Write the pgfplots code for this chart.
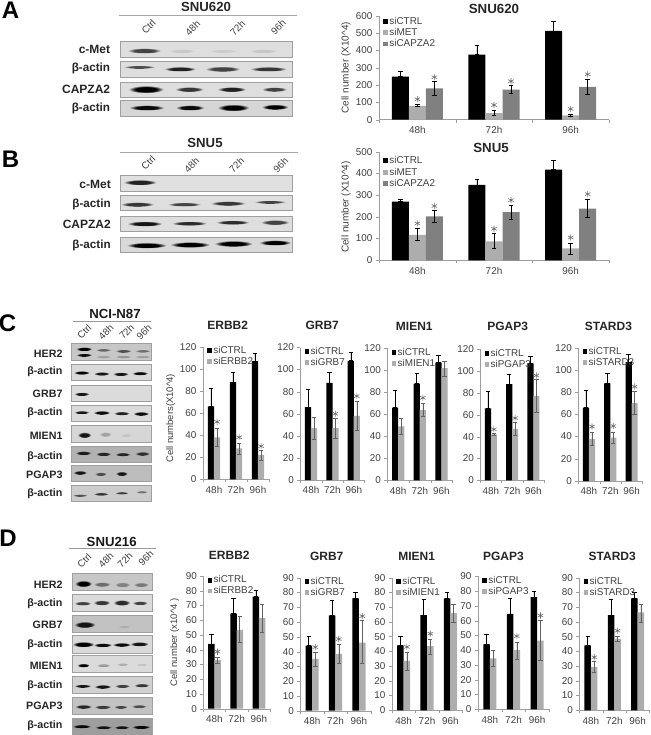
\documentclass[border=0pt]{standalone}
\usepackage{fontspec}
\setmainfont{Liberation Sans}
\usepackage{pgfplots}
\pgfplotsset{compat=1.18}

\definecolor{txt}{gray}{0.25}
\definecolor{axisc}{gray}{0.62}
\definecolor{star}{gray}{0.42}
\definecolor{ebgray}{gray}{0.38}
\definecolor{barlight}{gray}{0.68}
\definecolor{barmid}{gray}{0.5}

% blot drawing, coordinates are 3x reference pixels
\pgfdeclareradialshading[bandcol,panelcol]{blotband}{\pgfpoint{0bp}{0bp}}{%
  color(0bp)=(bandcol); color(15bp)=(bandcol); color(25bp)=(panelcol); color(50bp)=(panelcol)}
\newcommand{\blot}[5]{%
  \colorlet{panelcol}{white!#5!black}%
  \fill[panelcol] (#1,#2) rectangle (#3,#4);
  \draw[gray!75,line width=.6pt] (#1,#2) rectangle (#3,#4);}
\newcommand{\band}[5]{%
  \colorlet{bandcol}{black!#5!panelcol}%
  \shade[shading=blotband] (#1,#2) ellipse [x radius=#3/2+3,y radius=#4/2+1.5];}
\newcommand{\rowlab}[3]{\node[anchor=east,inner sep=0pt,text=black!85,font=\fontsize{#3}{#3}\selectfont\bfseries] at (#1) {#2};}
\newcommand{\lane}[2]{\node[rotate=45,inner sep=0pt,text=black!75,font=\fontsize{9.8}{10}\selectfont] at (#1) {#2};}

\pgfplotsset{
  chart/.style={
    scale only axis,
    xmin=-0.5, xmax=2.5, ymin=0,
    xtick={0,1,2}, xticklabels={48h,72h,96h},
    minor xtick={-0.5,0.5,1.5,2.5},
    axis x line=bottom, axis y line=left,
    axis line style={axisc,-},
    tick align=outside,
    major tick length=3pt, minor tick length=3pt,
    tick style={axisc},
    major x tick style={draw=none},
    /pgf/number format/assume math mode=true,
    tick label style={font=\fontsize{9.9}{10}\selectfont,text=txt},
    label style={font=\fontsize{9.5}{10}\selectfont,text=txt},
    clip=false,
    legend cell align=left,
    legend style={draw=none,fill=none,inner sep=0pt,anchor=north west,
      font=\fontsize{9.9}{10}\selectfont,text=txt,
      nodes={inner ysep=0.6pt,inner xsep=1.6pt}},
  },
  chartbar/.style n args={3}{
    ybar, bar width=#1pt, bar shift=0pt, fill=#2, draw=none,
    legend image code/.code={\fill[#2] (0pt,-2.4pt) rectangle (4.6pt,2.4pt);},
    error bars/.cd, y dir=both, y explicit,
    error bar style={#3,line width=.55pt},
    error mark options={#3,line width=.55pt,mark size=2.2pt,rotate=90},
  },
  starmark/.style={only marks,mark=asterisk,mark size=3.1pt,star,line width=.6pt,forget plot},
  ttl/.style n args={3}{title={#3},title style={at={(axis description cs:#1,#2)},anchor=center,yshift=-6pt,
      font=\fontsize{12}{12}\selectfont\bfseries,text=black!85}},
  smallA/.style={legend style={at={(rel axis cs:0,1)},xshift=4pt,yshift=1pt,row sep=1pt}},
  ctrl/.style={chartbar={6.2}{black}{black}},
  sig/.style={chartbar={6.2}{barlight}{ebgray}},
  ctrlD/.style={chartbar={6.5}{black}{black}},
  sigD/.style={chartbar={6.5}{barlight}{ebgray}},
  chartC/.style={chart,ymax=120,ytick distance=20},
  chartD/.style={chart,ymax=90,ytick distance=10},
}

\begin{document}
\begin{tikzpicture}
\path[use as bounding box] (0pt,0pt) rectangle (650pt,-735pt);

% panel letters
\foreach \t/\xx/\yy in {A/10.5/10,B/10.5/159,C/7.5/323,D/8/538}{
  \node[font=\fontsize{24}{24}\selectfont\bfseries,inner sep=0pt] at (\xx pt,-\yy pt) {\t};
}

% ---- blots A and B
\begin{scope}[x=0.33333pt,y=-0.33333pt]
\node[font=\fontsize{13.2}{13}\selectfont\bfseries,text=black!85] at (618,22) {SNU620};
\draw[gray!70,line width=.7pt] (356,47) -- (890,47);
\lane{446,80}{Ctrl}\lane{578,85}{48h}\lane{713,85}{72h}\lane{835,82}{96h}
\rowlab{331,147}{c-Met}{12}\rowlab{331,205}{β-actin}{11.7}\rowlab{331,268}{CAPZA2}{12}\rowlab{331,326}{β-actin}{11.7}
\blot{360}{125}{878}{172}{87}
\band{433}{152}{95}{14}{70}\band{545}{153}{75}{10}{10}\band{670}{153}{80}{8}{8}\band{790}{153}{80}{10}{10}
\blot{360}{185}{878}{231}{87}
\band{418}{201}{90}{8}{65}\band{540}{207}{90}{12}{85}\band{668}{207}{100}{14}{70}\band{805}{207}{105}{12}{75}
\blot{360}{247}{878}{293}{87}
\band{438}{268}{100}{20}{100}\band{568}{268}{80}{13}{75}\band{695}{268}{80}{13}{85}\band{823}{268}{70}{12}{70}
\blot{360}{302}{878}{348}{84}
\band{440}{323}{100}{14}{95}\band{570}{323}{80}{14}{95}\band{700}{323}{90}{18}{100}\band{825}{321}{75}{14}{100}

\node[font=\fontsize{13.2}{13}\selectfont\bfseries,text=black!85] at (615,428) {SNU5};
\draw[gray!70,line width=.7pt] (361,458) -- (895,458);
\lane{445,488}{Ctrl}\lane{575,495}{48h}\lane{710,495}{72h}\lane{842,495}{96h}
\rowlab{333,553}{c-Met}{12}\rowlab{333,612}{β-actin}{11.7}\rowlab{333,673}{CAPZA2}{12}\rowlab{333,735}{β-actin}{11.7}
\blot{360}{527}{878}{573}{88}
\band{420}{547}{95}{14}{85}
\blot{360}{586}{878}{632}{87}
\band{412}{613}{95}{12}{75}\band{553}{613}{95}{10}{70}\band{684}{610}{100}{12}{75}\band{810}{606}{90}{8}{70}
\blot{360}{648}{878}{694}{87}
\band{434}{671}{100}{13}{90}\band{568}{670}{100}{11}{80}\band{698}{667}{95}{11}{80}\band{825}{667}{80}{13}{70}
\blot{360}{712}{878}{758}{85}
\band{440}{736}{115}{15}{100}\band{570}{734}{115}{15}{100}\band{700}{731}{110}{16}{100}\band{825}{728}{90}{14}{100}
\end{scope}

% ---- blots C
\begin{scope}[shift={(0pt,-300pt)},x=0.33333pt,y=-0.33333pt]
\node[font=\fontsize{13.2}{13}\selectfont\bfseries,text=black!90] at (345,43) {NCI-N87};
\draw[gray!80,line width=.7pt] (220,63) -- (453,63);
\lane{253,95}{Ctrl}\lane{318,97}{48h}\lane{380,95}{72h}\lane{432,97}{96h}
\rowlab{188,160}{HER2}{10.7}\rowlab{188,214}{β-actin}{10.7}\rowlab{188,281}{GRB7}{10.7}\rowlab{188,338}{β-actin}{10.7}
\rowlab{188,407}{MIEN1}{10.7}\rowlab{188,470}{β-actin}{10.7}\rowlab{188,524}{PGAP3}{10.7}\rowlab{188,582}{β-actin}{10.7}
\blot{215}{130}{455}{180}{78}
\band{252}{147}{42}{10}{100}\band{252}{165}{42}{8}{95}\band{310}{150}{40}{7}{50}\band{310}{170}{40}{7}{20}
\band{370}{153}{42}{8}{60}\band{370}{170}{42}{7}{25}\band{428}{153}{40}{7}{45}\band{428}{170}{40}{7}{20}
\blot{215}{192}{455}{241}{85}
\band{245}{218}{42}{9}{100}\band{305}{221}{42}{9}{90}\band{362}{222}{42}{9}{90}\band{420}{220}{42}{9}{95}
\blot{215}{255}{455}{303}{86}
\band{245}{282}{40}{9}{90}
\blot{215}{316}{455}{365}{86}
\band{245}{337}{40}{8}{90}\band{305}{338}{45}{10}{95}\band{365}{340}{42}{9}{85}\band{423}{341}{42}{10}{95}
\blot{215}{376}{455}{428}{84}
\band{253}{405}{35}{15}{90}\band{316}{403}{30}{12}{25}\band{378}{406}{25}{10}{8}
\blot{215}{438}{455}{488}{70}
\band{250}{459}{42}{10}{85}\band{310}{462}{40}{10}{80}\band{368}{463}{40}{9}{80}\band{427}{461}{38}{10}{75}
\blot{215}{495}{455}{545}{74}
\band{240}{518}{35}{10}{90}\band{302}{522}{30}{9}{60}\band{365}{521}{30}{11}{90}
\blot{215}{555}{455}{603}{80}
\band{240}{586}{40}{6}{60}\band{303}{582}{40}{7}{75}\band{365}{579}{35}{6}{70}\band{425}{576}{30}{6}{45}
\end{scope}

% ---- blots D
\begin{scope}[shift={(0pt,-515pt)},x=0.33333pt,y=-0.33333pt]
\node[font=\fontsize{13.2}{13}\selectfont\bfseries,text=black!90] at (335,80) {SNU216};
\draw[gray!80,line width=.7pt] (208,101) -- (467,101);
\lane{253,137}{Ctrl}\lane{318,135}{48h}\lane{375,135}{72h}\lane{438,130}{96h}
\rowlab{188,208}{HER2}{10.7}\rowlab{188,267}{β-actin}{10.7}\rowlab{188,329}{GRB7}{10.7}\rowlab{188,390}{β-actin}{10.7}
\rowlab{188,452}{MIEN1}{10.7}\rowlab{188,511}{β-actin}{10.7}\rowlab{188,572}{PGAP3}{10.7}\rowlab{188,632}{β-actin}{10.7}
\blot{216}{175}{456}{225}{78}
\band{250}{206}{45}{17}{100}\band{306}{208}{45}{12}{45}\band{367}{209}{40}{13}{35}\band{423}{209}{40}{11}{40}
\blot{216}{237}{456}{288}{86}
\band{248}{265}{45}{10}{70}\band{305}{263}{45}{13}{75}\band{365}{263}{45}{15}{80}\band{420}{264}{40}{10}{70}
\blot{216}{301}{456}{352}{76}
\band{254}{329}{58}{17}{90}\band{372}{335}{30}{8}{10}
\blot{216}{362}{456}{414}{85}
\band{250}{388}{60}{14}{100}\band{308}{390}{50}{10}{95}\band{365}{389}{50}{10}{95}\band{418}{387}{50}{11}{90}
\blot{216}{421}{456}{472}{86}
\band{250}{451}{32}{9}{100}\band{310}{451}{35}{8}{30}\band{368}{448}{30}{7}{20}\band{425}{449}{30}{6}{10}
\blot{216}{484}{456}{534}{82}
\band{248}{513}{45}{8}{90}\band{308}{515}{45}{10}{90}\band{367}{513}{40}{9}{70}\band{425}{511}{40}{9}{75}
\blot{216}{548}{456}{597}{76}
\band{250}{575}{45}{10}{80}\band{308}{576}{45}{9}{70}\band{362}{576}{35}{8}{65}\band{417}{574}{40}{8}{60}
\blot{216}{610}{456}{660}{62}
\band{245}{634}{50}{9}{95}\band{310}{637}{45}{8}{90}\band{365}{637}{40}{8}{90}\band{423}{636}{50}{9}{95}
\end{scope}

% ---- A chart
\begin{axis}[chart, at={(379pt,-119.7pt)}, width=230pt, height=104pt,
  ymax=600, ytick distance=100,
  ttl={0.5}{1.064}{\fontsize{13.3}{13}\selectfont SNU620},
  ylabel={Cell number (X10\textasciicircum 4)},
  y label style={at={(axis description cs:-0.143,0.5)},anchor=center,font=\fontsize{10}{10}\selectfont},
  legend style={at={(rel axis cs:0,1)},xshift=4pt,yshift=-0.5pt,row sep=1.5pt}]
\addplot[chartbar={17}{black}{black}] coordinates {
  (-0.222,248) += (0,30) -= (0,0)
  (0.778,375) += (0,55) -= (0,0)
  (1.778,512) += (0,53) -= (0,0)
};
\addplot[chartbar={17}{barlight}{black}] coordinates {
  (0,80) += (0,8) -= (0,5)
  (1,38) += (0,17) -= (0,13)
  (2,25) += (0,8) -= (0,5)
};
\addplot[chartbar={17}{barmid}{black}] coordinates {
  (0.222,180) += (0,40) -= (0,37)
  (1.222,173) += (0,27) -= (0,18)
  (2.222,190) += (0,45) -= (0,42)
};
\addplot[starmark] coordinates {(0,118) (1,85) (2,62) (0.222,245) (1.222,222) (2.222,262)};
\legend{siCTRL,siMET,siCAPZA2}
\end{axis}

% ---- B chart
\begin{axis}[chart, at={(379pt,-260.3pt)}, width=230pt, height=108.6pt,
  ymax=500, ytick distance=100,
  ttl={0.487}{1.034}{\fontsize{13.3}{13}\selectfont SNU5},
  ylabel={Cell number (X10\textasciicircum 4)},
  y label style={at={(axis description cs:-0.143,0.49)},anchor=center,font=\fontsize{10}{10}\selectfont},
  legend style={at={(rel axis cs:0,1)},xshift=4pt,yshift=-4pt,row sep=1.5pt}]
\addplot[chartbar={17}{black}{black}] coordinates {
  (-0.222,270) += (0,13) -= (0,0)
  (0.778,347) += (0,25) -= (0,0)
  (1.778,418) += (0,44) -= (0,0)
};
\addplot[chartbar={17}{barlight}{black}] coordinates {
  (0,117) += (0,30) -= (0,27)
  (1,87) += (0,36) -= (0,32)
  (2,55) += (0,25) -= (0,25)
};
\addplot[chartbar={17}{barmid}{black}] coordinates {
  (0.222,202) += (0,28) -= (0,27)
  (1.222,222) += (0,33) -= (0,34)
  (2.222,238) += (0,45) -= (0,40)
};
\addplot[starmark] coordinates {(0,170) (1,145) (2,105) (0.222,250) (1.222,277) (2.222,305)};
\legend{siCTRL,siMET,siCAPZA2}
\end{axis}

% ---- C charts
\begin{axis}[chartC, smallA, at={(203pt,-479.3pt)}, width=66pt, height=132.6pt,
  ttl={0.374}{1.163}{ERBB2},
  ylabel={Cell numbers(X10\textasciicircum 4)},
  y label style={at={(axis description cs:-0.49,0.46)},anchor=center}]
\addplot[ctrl] coordinates {(-0.14,66) += (0,16) -= (0,0) (0.86,88) += (0,9) -= (0,0) (1.86,107) += (0,7) -= (0,0)};
\addplot[sig] coordinates {(0.14,38) += (0,8) -= (0,8) (1.14,28) += (0,5) -= (0,5) (2.14,22) += (0,4) -= (0,5)};
\addplot[starmark] coordinates {(0.14,52) (1.14,38) (2.14,30)};
\legend{siCTRL,siERBB2}
\end{axis}

\begin{axis}[chartC, smallA, at={(300.3pt,-480pt)}, width=64.2pt, height=132.5pt,
  ttl={0.341}{1.17}{GRB7}]
\addplot[ctrl] coordinates {(-0.14,66) += (0,16) -= (0,0) (0.86,88) += (0,10) -= (0,0) (1.86,108) += (0,8) -= (0,0)};
\addplot[sig] coordinates {(0.14,47) += (0,10) -= (0,10) (1.14,47) += (0,9) -= (0,9) (2.14,58) += (0,13) -= (0,13)};
\addplot[starmark] coordinates {(1.14,60) (2.14,76)};
\legend{siCTRL,siGRB7}
\end{axis}

\begin{axis}[chartC, smallA, at={(387.3pt,-480.3pt)}, width=65pt, height=132pt,
  ttl={0.415}{1.169}{MIEN1}]
\addplot[ctrl] coordinates {(-0.14,66) += (0,16) -= (0,0) (0.86,88) += (0,9) -= (0,0) (1.86,107) += (0,7) -= (0,0)};
\addplot[sig] coordinates {(0.14,49) += (0,7) -= (0,7) (1.14,64) += (0,6) -= (0,6) (2.14,102) += (0,6) -= (0,7)};
\addplot[starmark] coordinates {(1.14,75)};
\legend{siCTRL,siMIEN1}
\end{axis}

\begin{axis}[chartC, smallA, at={(480.3pt,-480.3pt)}, width=63.7pt, height=131pt,
  ttl={0.43}{1.178}{PGAP3}]
\addplot[ctrl] coordinates {(-0.14,66) += (0,16) -= (0,0) (0.86,88) += (0,9) -= (0,0) (1.86,107) += (0,7) -= (0,0)};
\addplot[sig] coordinates {(0.14,42) += (0,1) -= (0,1) (1.14,47) += (0,6) -= (0,6) (2.14,77) += (0,16) -= (0,15)};
\addplot[starmark] coordinates {(0.14,46.7) (1.14,57) (2.14,96)};
\legend{siCTRL,siPGAP3}
\end{axis}

\begin{axis}[chartC, smallA, at={(578.3pt,-481pt)}, width=64pt, height=133.3pt,
  ttl={0.47}{1.1625}{STARD3}]
\addplot[ctrl] coordinates {(-0.14,66) += (0,16) -= (0,0) (0.86,88) += (0,9) -= (0,0) (1.86,107) += (0,7) -= (0,0)};
\addplot[sig] coordinates {(0.14,38) += (0,6) -= (0,6) (1.14,39) += (0,5) -= (0,5) (2.14,70) += (0,11) -= (0,10)};
\addplot[starmark] coordinates {(0.14,49) (1.14,49.5) (2.14,85)};
\legend{siCTRL,siSTARD3}
\end{axis}

% ---- D charts
\begin{axis}[chartD, smallA, at={(203.3pt,-708.7pt)}, width=66.7pt, height=132.7pt,
  ttl={0.39}{1.158}{ERBB2},
  ylabel={Cell number (x10\textasciicircum 4 )},
  y label style={at={(axis description cs:-0.43,0.5)},anchor=center}]
\addplot[ctrlD] coordinates {(-0.14,44) += (0,6.5) -= (0,0) (0.86,64.5) += (0,10.5) -= (0,0) (1.86,76) += (0,4) -= (0,0)};
\addplot[sigD] coordinates {(0.14,33) += (0,2) -= (0,2) (1.14,53.5) += (0,9) -= (0,8.5) (2.14,61.5) += (0,9.5) -= (0,9.5)};
\addplot[starmark] coordinates {(0.14,38.7)};
\legend{siCTRL,siERBB2}
\end{axis}

\begin{axis}[chartD, smallA, at={(300.3pt,-710.7pt)}, width=70.4pt, height=133pt,
  ttl={0.375}{1.163}{GRB7}]
\addplot[ctrlD] coordinates {(-0.14,44) += (0,6.5) -= (0,0) (0.86,64.5) += (0,10.5) -= (0,0) (1.86,76) += (0,4) -= (0,0)};
\addplot[sigD] coordinates {(0.14,35) += (0,4.5) -= (0,5) (1.14,38.5) += (0,6.5) -= (0,6.5) (2.14,46) += (0,15) -= (0,14)};
\addplot[starmark] coordinates {(0.14,43) (1.14,48.5) (2.14,64)};
\legend{siCTRL,siGRB7}
\end{axis}

\begin{axis}[chartD, smallA, at={(392pt,-710.3pt)}, width=70pt, height=132.7pt,
  ttl={0.352}{1.158}{MIEN1}]
\addplot[ctrlD] coordinates {(-0.14,44) += (0,6.5) -= (0,0) (0.86,64.5) += (0,10.5) -= (0,0) (1.86,76) += (0,4) -= (0,0)};
\addplot[sigD] coordinates {(0.14,33.5) += (0,6) -= (0,6.5) (1.14,43.5) += (0,5) -= (0,5.5) (2.14,66) += (0,6) -= (0,6)};
\addplot[starmark] coordinates {(0.14,43) (1.14,52)};
\legend{siCTRL,siMIEN1}
\end{axis}

\begin{axis}[chartD, smallA, at={(478pt,-709.3pt)}, width=71pt, height=133pt,
  ttl={0.357}{1.153}{PGAP3}]
\addplot[ctrlD] coordinates {(-0.14,44) += (0,6.5) -= (0,0) (0.86,64.5) += (0,10.5) -= (0,0) (1.86,76) += (0,4) -= (0,0)};
\addplot[sigD] coordinates {(0.14,34.5) += (0,5.5) -= (0,5.5) (1.14,40) += (0,5.5) -= (0,6) (2.14,46.5) += (0,14) -= (0,13.5)};
\addplot[starmark] coordinates {(1.14,49.5) (2.14,63.5)};
\legend{siCTRL,siPGAP3}
\end{axis}

\begin{axis}[chartD, smallA, at={(579.3pt,-710.3pt)}, width=70pt, height=132.7pt,
  ttl={0.471}{1.163}{STARD3}]
\addplot[ctrlD] coordinates {(-0.14,44) += (0,6.5) -= (0,0) (0.86,64.5) += (0,10.5) -= (0,0) (1.86,76) += (0,4) -= (0,0)};
\addplot[sigD] coordinates {(0.14,29.5) += (0,3.5) -= (0,3.5) (1.14,48.5) += (0,2) -= (0,2) (2.14,66.5) += (0,5.5) -= (0,6.5)};
\addplot[starmark] coordinates {(0.14,36) (1.14,54)};
\legend{siCTRL,siSTARD3}
\end{axis}
\end{tikzpicture}
\end{document}
